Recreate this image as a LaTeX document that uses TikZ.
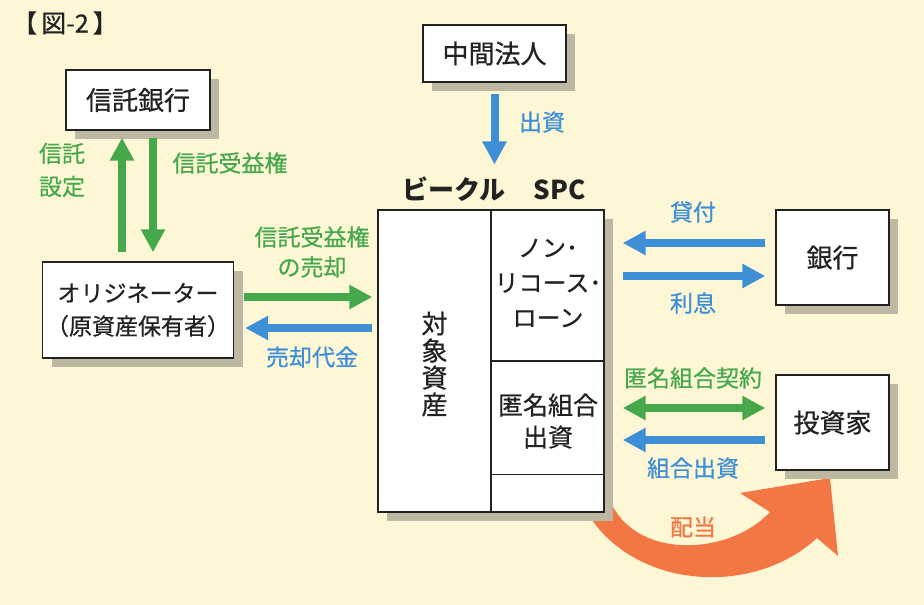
\documentclass[tikz,border=0pt]{standalone}
\usepackage{fontspec}
\setmainfont{Noto Sans CJK JP}
\newfontfamily\medfont{Noto Sans CJK JP}[FakeBold=0.6]
\usetikzlibrary{arrows.meta,calc,shadows}
\definecolor{bg}{HTML}{FEF7D6}
\definecolor{grn}{HTML}{45A84B}
\definecolor{blu}{HTML}{3F8FD6}
\definecolor{orng}{HTML}{F37645}
\definecolor{shd}{HTML}{BDB7A3}
\definecolor{ink}{HTML}{222222}
\tikzset{
  box/.style={draw=ink, line width=1.4pt, fill=white, inner sep=0pt, text=ink,
    drop shadow={shadow xshift=9pt, shadow yshift=-9pt, fill=shd, opacity=1}},
  bigfont/.style={font=\medfont\fontsize{26}{30}\selectfont},
  arr/.style={line width=8pt, -{Triangle[width=23pt,length=23pt]}},
  garr/.style={arr, draw=grn},
  barr/.style={arr, draw=blu},
  lbl/.style={font=\medfont\fontsize{23}{31}\selectfont, align=center, inner sep=0pt},
  glbl/.style={lbl, text=grn},
  blbl/.style={lbl, text=blu},
}
\begin{document}
\begin{tikzpicture}[x=1pt,y=-1pt]
\fill[bg] (0,0) rectangle (924,605);
\useasboundingbox (0,0) rectangle (924,605);

\node[font=\medfont\fontsize{25}{27}\selectfont, text=ink, anchor=west, inner sep=0pt] (title) at (12,23) {【\hspace{4pt}図-2\hspace{4pt}】};

% dividend arrow (drawn first, under the SPC box)
\fill[orng] (583,505) .. controls (625,588) and (750,600) .. (817,538)
  -- (838,556) -- (830,478) -- (740,493) -- (770,512)
  .. controls (730,555) and (640,560) .. (612,505) -- cycle;

% boxes
\node[box, bigfont, minimum width=144pt, minimum height=60pt] (tb) at (138,100) {信託銀行};
\node[box, minimum width=191pt, minimum height=96pt, align=center,
  font=\medfont\fontsize{23}{33}\selectfont] (orig) at (138,310) {オリジネーター\\（原資産保有者）};
\node[box, bigfont, minimum width=143pt, minimum height=57pt] (mid) at (494.5,53.5) {中間法人};
\node[box, minimum width=226pt, minimum height=302pt] (spc) at (491,361) {};
\node[box, bigfont, minimum width=113pt, minimum height=95pt] (bank) at (832.5,257.5) {銀行};
\node[box, bigfont, minimum width=113pt, minimum height=95pt] (inv) at (832.5,422.5) {投資家};

% SPC internal divisions
\draw[ink, line width=1.4pt] (spc.north) -- (spc.south);
\draw[ink, line width=1.2pt] (spc.center) -- (spc.east);
\coordinate (lowdiv) at ($(spc.south)+(0,-38)$);
\draw[ink, line width=1.2pt] (lowdiv) -- (lowdiv -| spc.east);

\node[font=\medfont\fontsize{26}{27}\selectfont, align=center, text=ink, inner sep=0pt] (asset) at (434.5,364) {対\\象\\資\\産};
\node[font=\medfont\fontsize{24}{35}\selectfont, align=center, text=ink, inner sep=0pt] (nrl) at (548,283) {ノン･\\リコース･\\ローン};
\node[font=\medfont\fontsize{25}{32}\selectfont, align=center, text=ink, inner sep=0pt] (tk) at (548,421) {匿名組合\\出資};

\node[font=\bfseries\fontsize{26}{28}\selectfont, text=ink, inner sep=0pt] (spclbl) at (494,189) {ビークル\hspace{28pt}SPC};

% trust bank arrows
\draw[garr, shorten <=9pt, shorten >=7pt] ([xshift=-16pt]orig.north) -- ([xshift=-16pt]tb.south);
\draw[garr, shorten <=7pt, shorten >=9pt] ([xshift=15pt]tb.south) -- ([xshift=15pt]orig.north);
\node[glbl, font=\medfont\fontsize{23}{33}\selectfont] (l1) at (62,170) {信託\\設定};
\node[glbl] (l2) at (230,163) {信託受益権};

% intermediate corporation
\draw[barr, shorten <=11pt, shorten >=12pt] (mid.south) -- (mid.south |- spclbl.north);
\node[blbl] (l3) at (542,122) {出資};

% originator <-> SPC
\coordinate (o1) at ([yshift=13pt]orig.east);
\coordinate (o2) at ([yshift=-18pt]orig.east);
\draw[garr, shorten <=10pt, shorten >=5pt] (o1) -- (o1 -| spc.west);
\draw[barr, shorten <=5pt, shorten >=11pt] (o2 -| spc.west) -- (o2);
\node[glbl, font=\medfont\fontsize{23}{30}\selectfont] (l4) at (312,252) {信託受益権\\の売却};
\node[blbl] (l5) at (312,357) {売却代金};

% bank <-> SPC
\coordinate (b1) at ([yshift=14.5pt]bank.west);
\coordinate (b2) at ([yshift=-18.5pt]bank.west);
\draw[barr, shorten <=10pt, shorten >=18pt] (b1) -- (b1 -| spc.east);
\draw[barr, shorten <=18pt, shorten >=10pt] (b2 -| spc.east) -- (b2);
\node[blbl] (l6) at (693,212) {貸付};
\node[blbl] (l7) at (693,303) {利息};

% investor <-> SPC
\coordinate (i1) at ([yshift=14.5pt]inv.west);
\coordinate (i2) at ([yshift=-17.5pt]inv.west);
\draw[line width=8pt, draw=grn, {Triangle[width=23pt,length=23pt]}-{Triangle[width=23pt,length=23pt]}, shorten <=18pt, shorten >=10pt] (i1 -| spc.east) -- (i1);
\draw[barr, shorten <=10pt, shorten >=18pt] (i2) -- (i2 -| spc.east);
\node[glbl] (l8) at (693,378) {匿名組合契約};
\node[blbl] (l9) at (693,468) {組合出資};

\node[lbl, text=orng] (l10) at (693,527) {配当};
\end{tikzpicture}
\end{document}
